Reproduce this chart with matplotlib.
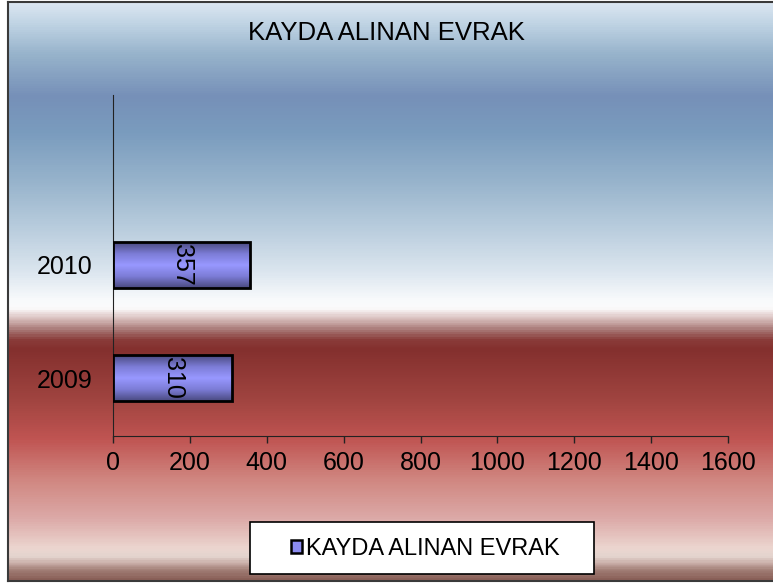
import numpy as np
import matplotlib
matplotlib.use('Agg')
import matplotlib.pyplot as plt
from matplotlib.colors import LinearSegmentedColormap
from matplotlib.patches import Rectangle

plt.rcParams['font.family'] = ['Liberation Sans', 'DejaVu Sans']

years  = ['2009', '2010']
values = [310, 357]
series = 'KAYDA ALINAN EVRAK'
title  = 'KAYDA ALINAN EVRAK'
xticks = [0, 200, 400, 600, 800, 1000, 1200, 1400, 1600]

W, H = 773, 583
fig = plt.figure(figsize=(W / 100, H / 100), dpi=100)
fig.patch.set_facecolor('white')

# background gradient (pixel row from top of the chart area -> colour)
stops = [
    (0,   '#dae6f1'), (20,  '#c0d4e4'), (50,  '#98b4cc'), (93,  '#7690b8'),
    (130, '#7a9cbe'), (180, '#98b4cc'), (230, '#bccfdf'), (270, '#dce6ef'),
    (298, '#f8fafc'), (306, '#fbfbfb'), (310, '#f0e6e6'), (318, '#d4b8b6'),
    (328, '#a87876'), (338, '#8a3c3a'), (348, '#84302e'), (398, '#a04440'),
    (438, '#c05452'), (478, '#d08680'), (518, '#dcaaa8'), (548, '#ecd6d0'),
    (556, '#e4d4ce'), (563, '#c8aca6'), (570, '#a07c74'), (579, '#8a6058'),
]
top_px, bot_px = 2, 581
span = bot_px - top_px
bg_cmap = LinearSegmentedColormap.from_list(
    'bg', [(min(p / span, 1.0), c) for p, c in stops])

bg = fig.add_axes([8 / W, (H - bot_px) / H, (W - 8) / W, span / H])
bg.imshow(np.linspace(0, 1, 600).reshape(-1, 1), cmap=bg_cmap,
          aspect='auto', extent=[0, 1, 0, 1], origin='upper')
bg.set_xticks([])
bg.set_yticks([])
for side in ['left', 'top', 'bottom']:
    bg.spines[side].set_color('#3a3a3a')
    bg.spines[side].set_linewidth(1.5)
bg.spines['right'].set_visible(False)

# main plot
ax = fig.add_axes([113 / W, (H - 436) / H, (728 - 113) / W, (436 - 95) / H])
ax.patch.set_alpha(0)

bar_cmap = LinearSegmentedColormap.from_list(
    'bar', ['#4a4a80', '#7c7cd6', '#9898ff', '#7c7cd6', '#4a4a80'])
pos = np.arange(len(years))
bh = 0.4
bars = ax.barh(pos, values, height=bh, facecolor='none',
               edgecolor='black', linewidth=2, zorder=3)
for b, v, p in zip(bars, values, pos):
    im = ax.imshow(np.linspace(0, 1, 100).reshape(-1, 1), cmap=bar_cmap,
                   aspect='auto', extent=[0, v, p - bh / 2, p + bh / 2],
                   zorder=2)
    im.set_clip_path(b)
    ax.text(v / 2, p, str(v), rotation=-90, ha='center', va='center',
            fontsize=18, zorder=4)

ax.set_xlim(0, 1600)
ax.set_ylim(-0.513, 2.504)
ax.set_xticks(xticks)
ax.set_xticklabels([str(t) for t in xticks])
ax.set_yticks(pos)
ax.set_yticklabels(years)
ax.tick_params(axis='x', direction='out', length=5, width=1,
               colors='#222222', labelcolor='black', labelsize=18, pad=6)
ax.tick_params(axis='y', length=0, labelsize=18, pad=15)
ax.spines['top'].set_visible(False)
ax.spines['right'].set_visible(False)
ax.spines['left'].set_color('#222222')
ax.spines['bottom'].set_color('#222222')
ax.spines['left'].set_linewidth(0.8)
ax.spines['bottom'].set_linewidth(0.8)

fig.text(386 / W, (H - 33) / H, title, ha='center', va='center',
         fontsize=18.5)

# legend with a plain white box
fig.patches.append(Rectangle((250 / W, (H - 574) / H), 344 / W, 52 / H,
                             transform=fig.transFigure, facecolor='white',
                             edgecolor='black', linewidth=1.2, zorder=5))
handle = Rectangle((0, 0), 1, 1, facecolor='#8c8cf0', edgecolor='black',
                   linewidth=1.8)
leg = fig.legend([handle], [series], loc='center',
                 bbox_to_anchor=(425 / W, (H - 549) / H), frameon=False,
                 fontsize=17, handlelength=0.5, handleheight=0.5,
                 handletextpad=0.15)
leg.set_zorder(6)

fig.savefig('out.png', dpi=100)
